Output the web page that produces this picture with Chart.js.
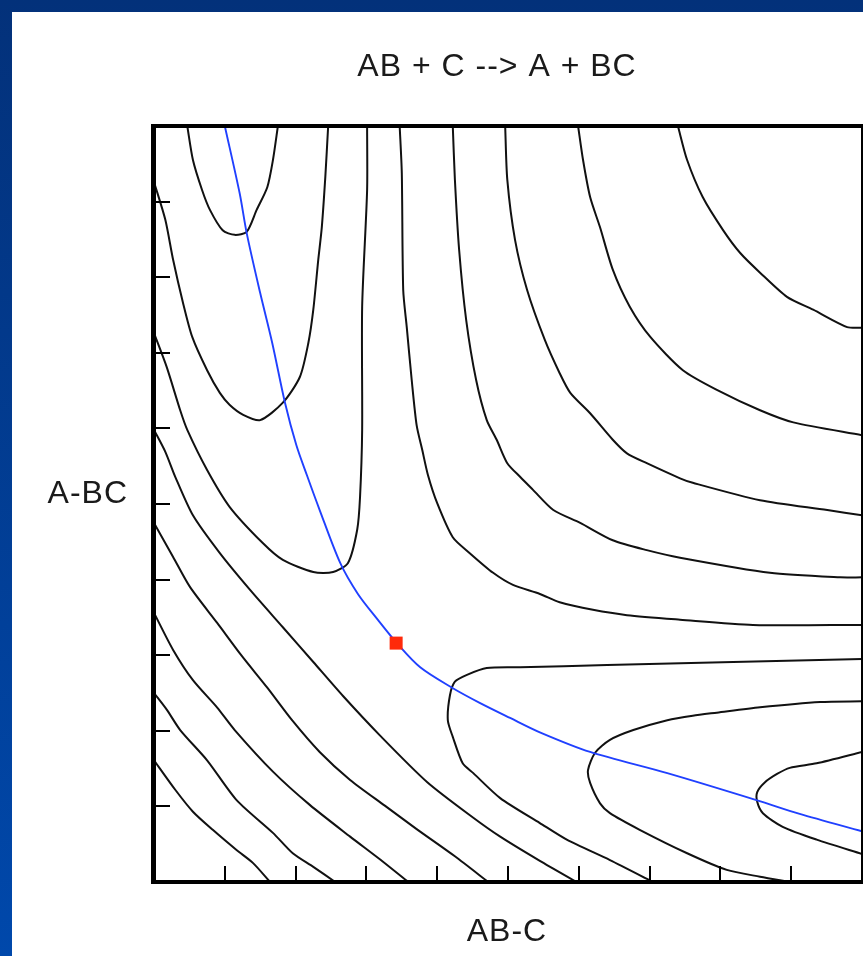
<!DOCTYPE html>
<html>
<head>
<meta charset="utf-8">
<title>AB + C --> A + BC</title>
<script src="https://cdn.jsdelivr.net/npm/chart.js@4/dist/chart.umd.min.js"></script>
<style>
  html, body { margin: 0; padding: 0; background: #fff; overflow: hidden; }
  canvas { display: block; }
</style>
</head>
<body>
<canvas id="pesChart" width="863" height="956"></canvas>
<script>
// Axis setup (tick units, no labels on the original)
const xTicks = [1, 2, 3, 4, 5, 6, 7, 8, 9];
const yTicks = [1, 2, 3, 4, 5, 6, 7, 8, 9];

const titleText = 'AB + C --> A + BC';
const xLabel = 'AB-C';
const yLabel = 'A-BC';

// Contour lines, [AB-C, A-BC]
// closed-at-top wells in the upper left
const wellTop1 = [[0.47,10],[0.55,9.55],[0.68,9.15],[0.79,8.89],[0.97,8.62],[1.14,8.56],[1.31,8.60],[1.45,8.89],[1.60,9.19],[1.68,9.55],[1.75,10]];
const wellTop2 = [[0,9.26],[0.16,8.76],[0.27,8.23],[0.41,7.66],[0.54,7.21],[0.75,6.77],[0.93,6.47],[1.07,6.31],[1.26,6.18],[1.50,6.11],[1.82,6.34],[2.06,6.68],[2.18,7.13],[2.25,7.57],[2.32,8.23],[2.37,8.66],[2.42,9.33],[2.46,10]];
const wellTop3 = [[0,7.26],[0.18,6.81],[0.37,6.24],[0.47,5.98],[0.75,5.45],[1.07,4.96],[1.54,4.48],[1.82,4.26],[2.25,4.10],[2.53,4.10],[2.74,4.22],[2.87,4.66],[2.91,5.09],[2.94,5.98],[2.94,7.61],[3.01,9.15],[3.01,10]];

// top edge to right edge
const ridge4 = [[3.47,10],[3.50,9.38],[3.52,7.83],[3.57,7.34],[3.64,6.64],[3.71,6.04],[3.79,5.71],[3.87,5.38],[4.00,5.01],[4.22,4.56],[4.46,4.35],[4.79,4.09],[5.07,3.93],[5.45,3.81],[5.73,3.70],[6.20,3.60],[6.68,3.53],[7.43,3.47],[8.46,3.40],[10,3.40]];
const ridge5 = [[4.22,10],[4.25,9.29],[4.31,8.36],[4.41,7.43],[4.55,6.64],[4.70,6.11],[4.84,5.85],[4.99,5.54],[5.17,5.36],[5.35,5.19],[5.64,4.92],[6.02,4.75],[6.48,4.52],[6.96,4.39],[7.43,4.29],[8.70,4.09],[9.69,4.03],[10,4.03]];
const ridge6 = [[4.96,10],[4.99,9.29],[5.10,8.49],[5.27,7.83],[5.52,7.17],[5.73,6.73],[5.88,6.47],[6.16,6.20],[6.48,5.85],[6.68,5.67],[6.96,5.54],[7.43,5.34],[7.61,5.28],[8.56,5.05],[9.51,4.92],[10,4.85]];
const ridge7 = [[5.99,10],[6.06,9.55],[6.16,9.06],[6.30,8.66],[6.48,8.10],[6.72,7.61],[7.01,7.21],[7.47,6.77],[7.95,6.51],[8.56,6.24],[9.03,6.08],[10,5.91]];
const ridge8 = [[7.40,10],[7.53,9.55],[7.75,9.06],[8.04,8.62],[8.28,8.32],[8.56,8.06],[8.94,7.74],[9.31,7.57],[9.79,7.34],[10,7.33]];

// open-to-the-right wells in the lower right
const wellRight1 = [[10,2.95],[8.18,2.91],[6.40,2.87],[5.17,2.84],[4.70,2.83],[4.42,2.74],[4.25,2.65],[4.18,2.47],[4.15,2.14],[4.22,1.92],[4.36,1.57],[4.51,1.44],[4.89,1.11],[5.45,0.78],[5.83,0.56],[6.44,0.29],[7.05,0]];
const wellRight2 = [[10,2.39],[9.41,2.38],[8.56,2.31],[7.95,2.24],[7.61,2.20],[7.25,2.14],[6.77,2.01],[6.44,1.88],[6.23,1.71],[6.13,1.48],[6.16,1.31],[6.30,1.04],[6.44,0.91],[6.86,0.69],[7.53,0.38],[8.09,0.16],[8.56,0.07],[8.98,0]];
const wellRight3 = [[10,1.72],[9.36,1.57],[8.98,1.51],[8.80,1.43],[8.63,1.32],[8.52,1.19],[8.52,1.06],[8.60,0.91],[8.88,0.73],[9.36,0.56],[10,0.37]];

// repulsive wall, left edge to bottom edge
const wall5 = [[0,5.98],[0.16,5.69],[0.30,5.36],[0.55,4.85],[0.93,4.35],[1.36,3.86],[1.82,3.37],[2.25,2.91],[2.67,2.46],[3.19,1.94],[3.86,1.32],[4.51,0.85],[4.89,0.60],[5.45,0.28],[5.97,0]];
const wall4 = [[0,4.75],[0.27,4.30],[0.51,3.90],[0.89,3.43],[1.24,2.99],[1.60,2.57],[1.95,2.14],[2.34,1.72],[2.77,1.35],[3.26,1.01],[3.71,0.70],[4.25,0.34],[4.72,0]];
const wall3 = [[0,3.56],[0.27,3.07],[0.55,2.67],[0.89,2.31],[1.14,2.01],[1.68,1.46],[2.20,1.02],[2.77,0.60],[3.19,0.30],[3.59,0]];
const wall2 = [[0,2.50],[0.18,2.28],[0.37,2.01],[0.75,1.61],[1.17,1.08],[1.68,0.65],[1.96,0.38],[2.25,0.20],[2.56,0]];
const wall1 = [[0,1.61],[0.30,1.22],[0.55,0.93],[0.83,0.69],[1.17,0.42],[1.40,0.25],[1.64,0]];

// minimum energy path and the transition state
const reactionPath = [[1.00,10],[1.21,9.11],[1.31,8.58],[1.50,7.79],[1.67,7.13],[1.85,6.34],[2.01,5.78],[2.16,5.38],[2.34,4.92],[2.63,4.22],[2.88,3.81],[3.16,3.47],[3.43,3.16],[3.76,2.84],[4.21,2.57],[4.60,2.37],[5.03,2.17],[5.45,1.98],[6.16,1.72],[7.25,1.44],[8.52,1.08],[9.12,0.90],[10,0.67]];
const saddlePoint = [[3.42,3.16]];

const contours = [wellTop1, wellTop2, wellTop3, ridge4, ridge5, ridge6, ridge7, ridge8,
  wellRight1, wellRight2, wellRight3, wall5, wall4, wall3, wall2, wall1];

const toXY = (arr) => arr.map(p => ({ x: p[0], y: p[1] }));

const datasets = contours.map(c => ({
  data: toXY(c),
  showLine: true,
  borderColor: '#111',
  borderWidth: 2,
  pointRadius: 0,
  tension: 0.25,
  order: 3
}));

datasets.push({
  data: toXY(reactionPath),
  showLine: true,
  borderColor: '#2040ff',
  borderWidth: 1.9,
  pointRadius: 0,
  tension: 0.3,
  order: 2
});

datasets.push({
  data: toXY(saddlePoint),
  showLine: false,
  pointStyle: 'rect',
  pointRadius: 9.2,
  backgroundColor: '#ff2a0a',
  borderColor: '#ff2a0a',
  borderWidth: 0,
  order: 1
});

// Blue slide background with white panel
const backdrop = {
  id: 'backdrop',
  beforeDraw(chart) {
    const c = chart.ctx;
    const g = c.createLinearGradient(0, 0, 0, chart.height);
    g.addColorStop(0, '#03317a');
    g.addColorStop(1, '#0048ab');
    c.save();
    c.fillStyle = g;
    c.fillRect(0, 0, chart.width, chart.height);
    c.fillStyle = '#fff';
    c.fillRect(12, 12, chart.width - 12, chart.height - 12);
    c.restore();
  }
};

// Frame, inward ticks and text
const frame = {
  id: 'frame',
  afterDatasetsDraw(chart) {
    const c = chart.ctx;
    const a = chart.chartArea;
    const xs = chart.scales.x;
    const ys = chart.scales.y;
    c.save();
    c.fillStyle = '#000';
    c.fillRect(a.left - 3, a.top - 2, 5, a.bottom - a.top + 4);   // left axis
    c.fillRect(a.left - 3, a.top - 2, a.right - a.left + 4, 4);   // top
    c.fillRect(a.left - 3, a.bottom - 2, a.right - a.left + 4, 4); // bottom axis
    c.fillRect(a.right - 1, a.top - 2, 2, a.bottom - a.top + 4);  // right

    c.strokeStyle = '#000';
    c.lineWidth = 2;
    yTicks.forEach(v => {
      const py = Math.round(ys.getPixelForValue(v));
      c.beginPath();
      c.moveTo(a.left, py);
      c.lineTo(a.left + 16, py);
      c.stroke();
    });
    xTicks.forEach(v => {
      const px = Math.round(xs.getPixelForValue(v));
      c.beginPath();
      c.moveTo(px, a.bottom);
      c.lineTo(px, a.bottom - 16);
      c.stroke();
    });

    c.fillStyle = '#1a1a1a';
    c.font = '32px "Liberation Sans", Arial, sans-serif';
    c.letterSpacing = '1px';
    c.textBaseline = 'alphabetic';
    const mid = (a.left + a.right) / 2;
    c.textAlign = 'center';
    c.fillText(titleText, mid - 11, 76);
    c.fillText(xLabel, mid - 1, 941);
    c.textAlign = 'right';
    c.fillText(yLabel, a.left - 26, 503);
    c.restore();
  }
};

new Chart(document.getElementById('pesChart'), {
  type: 'scatter',
  data: { datasets },
  options: {
    responsive: false,
    animation: false,
    layout: { autoPadding: false, padding: { left: 154, top: 126, right: 1, bottom: 74 } },
    scales: {
      x: { type: 'linear', min: 0, max: 10, display: false },
      y: { type: 'linear', min: 0, max: 10, display: false }
    },
    plugins: {
      legend: { display: false },
      tooltip: { enabled: false },
      title: { display: false }
    }
  },
  plugins: [backdrop, frame]
});
</script>
</body>
</html>
